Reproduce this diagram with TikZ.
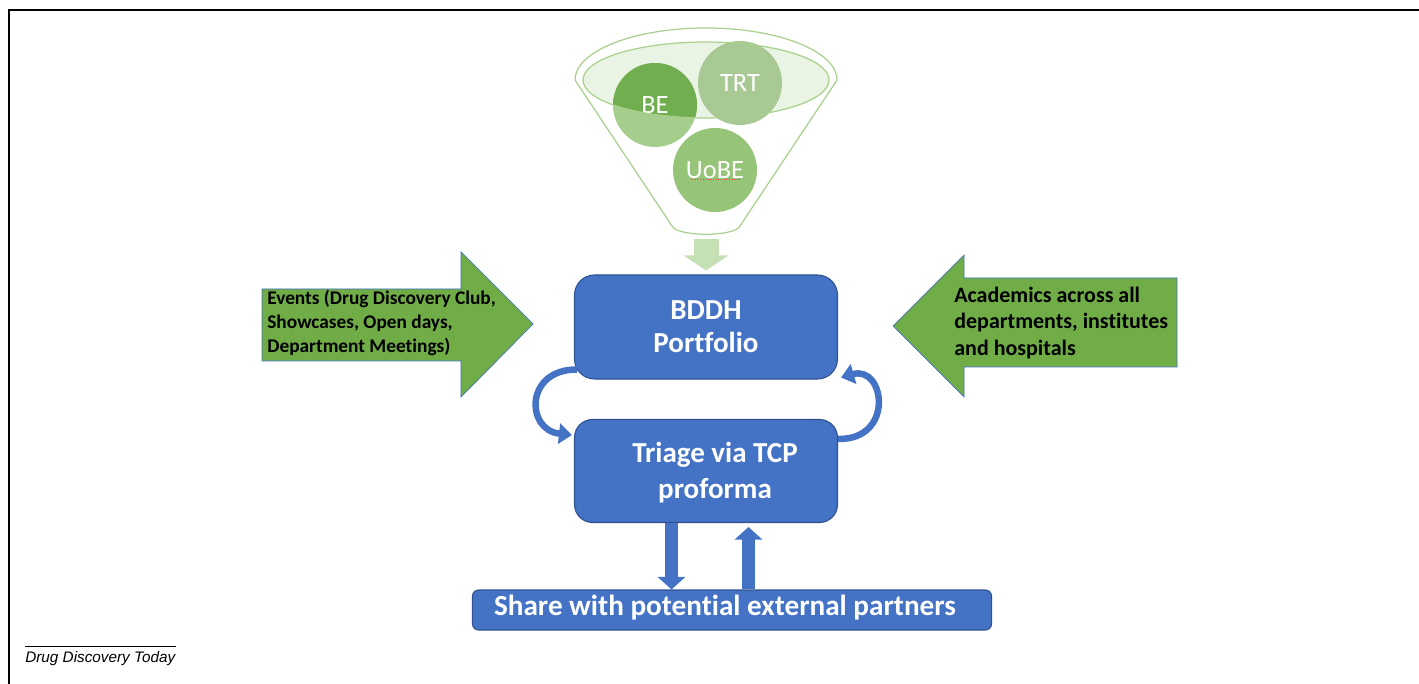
\documentclass[tikz,border=0pt]{standalone}
\usepackage{fontspec}
\setmainfont{Carlito}[Ligatures=NoCommon]
\newfontfamily\captionfont{Liberation Sans}
\usetikzlibrary{arrows.meta,calc,positioning}
\definecolor{boxblue}{RGB}{68,114,196}
\definecolor{boxedge}{RGB}{47,82,143}
\definecolor{arrowgreen}{RGB}{112,173,71}
\definecolor{funnelline}{RGB}{169,209,142}
\definecolor{funnelfill}{RGB}{226,240,217}
\definecolor{funnelarrow}{RGB}{197,224,180}
\definecolor{belight}{RGB}{165,205,140}
\definecolor{bedark}{RGB}{112,174,80}
\definecolor{trtgreen}{RGB}{168,200,148}
\definecolor{uobegreen}{RGB}{150,196,120}

\tikzset{
  bluebox/.style={draw=boxedge, fill=boxblue, text=white, align=center, line width=0.6pt},
  ballnode/.style={circle, minimum size=16.8mm, inner sep=0pt, text=white,
    font=\fontsize{15}{18}\selectfont},
  greenarrow/.style={fill=arrowgreen, draw=boxblue, line width=0.4pt},
  arrowtext/.style={align=left, inner sep=0pt, font=\bfseries\fontsize{11}{13.7}\selectfont},
  loopline/.style={draw=boxblue, line width=1.3mm, -{Triangle[width=4mm,length=2.6mm]}},
  blockarrow/.style={draw=boxblue, line width=2.6mm, -{Triangle[width=5.4mm,length=2.5mm]}}
}

\begin{document}
\begin{tikzpicture}[x=0.2mm,y=-0.2mm]
\useasboundingbox (0,0) rectangle (1419,684);

% Frame
\draw[line width=1.6pt] (9,684) -- (9,10) -- (1419,10);

% Funnel
\filldraw[draw=funnelline, fill=white, line width=0.7pt]
  (575,80) arc[start angle=180, end angle=0, x radius=26.2mm, y radius=10.4mm]
  -- (740,226) .. controls (735,237) and (677,237) .. (672,226) -- cycle;
\fill[funnelfill, fill opacity=0.7] (706,80) ellipse [x radius=24.6mm, y radius=7.6mm];

% Circles in the funnel
\node[ballnode, fill=trtgreen] (trt) at (740,83) {};
\node[ballnode, fill=belight] (be) at (655,105) {};
\begin{scope}
  \clip (706,80) ellipse [x radius=24.6mm, y radius=7.6mm];
  \fill[bedark] (be) circle (8.4mm);
\end{scope}
\node[ballnode, fill=uobegreen] (uobe) at (715,170) {UoBE};
\node[ballnode] (betext) at (be) {BE};
\node[ballnode] (trttext) at (trt) {TRT};
\draw[red!80, densely dotted, line width=0.5pt] (692,179) -- (742,179);
\draw[funnelline, line width=0.7pt] (706,80) ellipse [x radius=24.6mm, y radius=7.6mm];

% Funnel output
\coordinate (funnelout) at (706,239);

% Main boxes
\node[bluebox, minimum width=52.6mm, minimum height=20.8mm, rounded corners=4mm,
  font=\bfseries\fontsize{16.5}{19}\selectfont] (bddh) at (706,327) {BDDH\\Portfolio};
\node[bluebox, minimum width=52.6mm, minimum height=20.6mm, rounded corners=3.6mm] (triage) at (706,471) {};
\node[white, align=center, font=\bfseries\fontsize{16.5}{20.5}\selectfont]
  (triagetext) at ($(triage)+(9,2)$) {Triage via TCP\\proforma};
\node[bluebox, minimum width=103.8mm, minimum height=8mm, rounded corners=1.2mm] (share) at (732,610) {};
\node[white, font=\bfseries\fontsize{16.6}{18}\selectfont]
  (sharetext) at ($(share)+(-7,-2)$) {Share with potential external partners};

\draw[funnelarrow, line width=5mm, -{Triangle[width=8.8mm,length=3mm]}]
  (funnelout) -- ($(bddh.north)+(0,-4)$);

% Side arrows
\draw[greenarrow] (262,289) -- (461,289) -- (461,252) -- (533,324) -- (461,397)
  -- (461,361) -- (262,361) -- cycle;
\node[arrowtext, anchor=west] (events) at (267,323)
  {Events (Drug Discovery Club,\\Showcases, Open days,\\Department Meetings)};
\draw[greenarrow] (1177,278) -- (964,278) -- (964,255) -- (893,326) -- (964,397)
  -- (964,367) -- (1177,367) -- cycle;
\node[arrowtext, anchor=west, font=\bfseries\fontsize{12.5}{15}\selectfont] (academics) at (954,323)
  {Academics across all\\departments, institutes\\and hospitals};

% Loop between portfolio and triage
\draw[loopline] ($(bddh.south west)+(3,-10)$) .. controls (525,369) and (525,430)
  .. ($(triage.west)+(-2,-36)$);
\draw[loopline] ($(triage.north east)+(0,20)$) .. controls (895,440) and (885,365)
  .. ($(bddh.south east)+(3,-2)$);

% Exchange with partners
\draw[blockarrow] ($(triage.south)+(-34.5,0)$) -- ($(share.north)+(-60.5,0)$);
\draw[blockarrow] ($(share.north)+(16.5,0)$) -- ($(triage.south)+(42.5,4)$);

% Source
\node[anchor=west, inner sep=0pt, font=\captionfont\itshape\fontsize{8.7}{10}\selectfont]
  (source) at (25,659) {Drug Discovery Today};
\draw[line width=0.5pt] ([yshift=3pt]source.north west) -- ([yshift=3pt]source.north east);
\end{tikzpicture}
\end{document}
